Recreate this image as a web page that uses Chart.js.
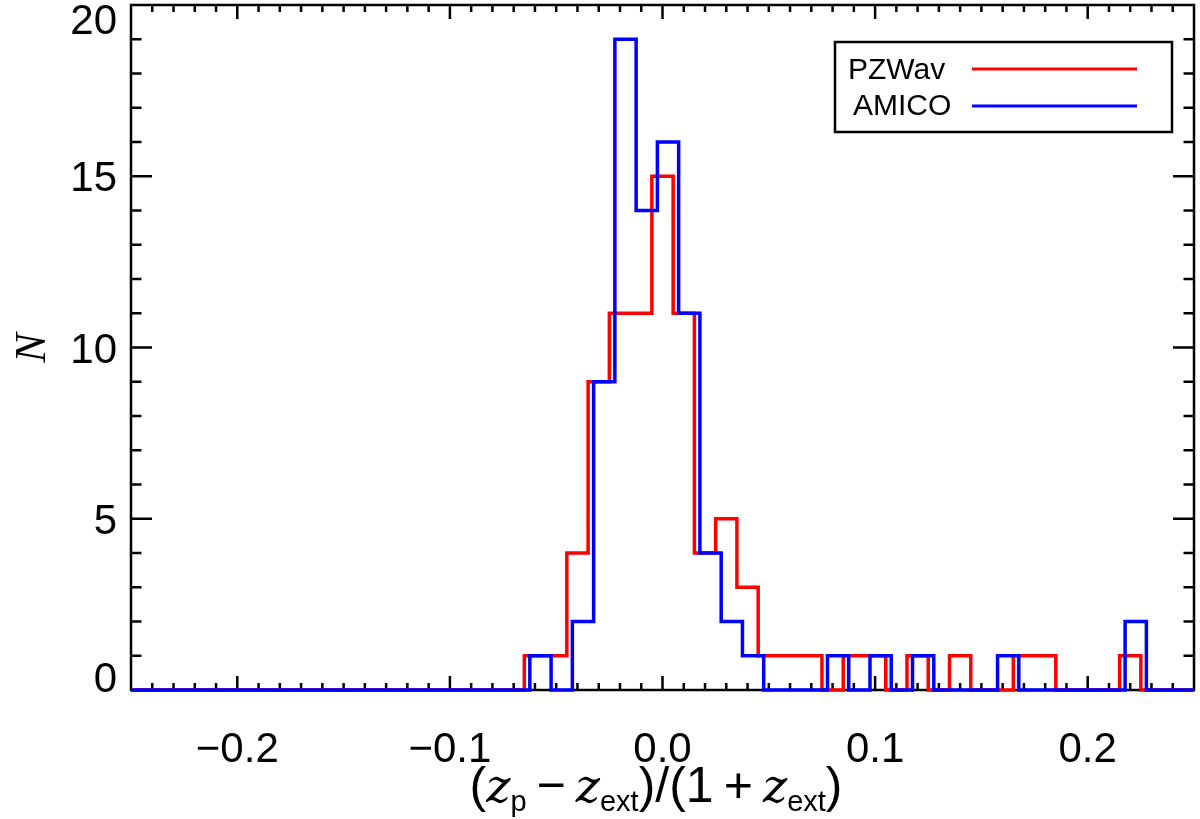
<!DOCTYPE html>
<html>
<head>
<meta charset="utf-8">
<title>Photometric redshift residuals</title>
<script src="https://cdn.jsdelivr.net/npm/chart.js@4.4.1/dist/chart.umd.min.js"></script>
<style>
  html, body { margin: 0; padding: 0; background: #fff; }
  canvas { display: block; }
</style>
</head>
<body>
<canvas id="histChart" width="1200" height="819"></canvas>
<script>
// histogram bins: left edge of each bin + count (bin width 0.01)
const pzwavEdges = [-0.065, -0.055, -0.045, -0.035, -0.025, -0.015, -0.005, 0.005, 0.015, 0.025,
                    0.035, 0.045, 0.055, 0.065, 0.075, 0.085, 0.095, 0.105, 0.115, 0.125,
                    0.135, 0.145, 0.155, 0.165, 0.175, 0.185, 0.195, 0.205, 0.215];
const pzwavCounts = [1, 1, 4, 9, 11, 11, 15, 11, 4, 5,
                     3, 1, 1, 1, 0, 1, 1, 0, 1, 0,
                     1, 0, 0, 1, 1, 0, 0, 0, 1];
const pzwavLastEdge = 0.225;

const amicoEdges = [-0.0624, -0.0524, -0.0424, -0.0324, -0.0224, -0.0124, -0.0024, 0.0076, 0.0176, 0.0276,
                    0.0376, 0.0476, 0.0576, 0.0676, 0.0776, 0.0876, 0.0976, 0.1076, 0.1176, 0.1276,
                    0.1376, 0.1476, 0.1576, 0.1676, 0.1776, 0.1876, 0.1976, 0.2076, 0.2176];
const amicoCounts = [1, 0, 2, 9, 19, 14, 16, 11, 4, 2,
                     1, 0, 0, 0, 1, 0, 1, 0, 1, 0,
                     0, 0, 1, 0, 0, 0, 0, 0, 2];
const amicoLastEdge = 0.2276;

const xTickValues = [-0.2, -0.1, 0.0, 0.1, 0.2];
const xTickLabels = ['\u22120.2', '\u22120.1', '0.0', '0.1', '0.2'];
const yTickValues = [0, 5, 10, 15, 20];
const yTickLabels = ['0', '5', '10', '15', '20'];

const X_MIN = -0.25, X_MAX = 0.25;
const Y_MIN = 0, Y_MAX = 20;

// step outline: start at the left edge of the axis, one point per bin, close at zero
function histPoints(edges, counts, lastEdge) {
    const pts = [{x: X_MIN, y: 0}];
    edges.forEach((e, i) => pts.push({x: e, y: counts[i]}));
    pts.push({x: lastEdge, y: 0});
    pts.push({x: X_MAX, y: 0});
    return pts;
}

const tickFont = '42px "Liberation Sans", Arial, sans-serif';

// IDL-style box: frame, inward ticks on all four sides, labels, titles and legend
const idlFrame = {
    id: 'idlFrame',
    beforeDatasetsDraw(chart) {
        const {ctx, chartArea: a, scales: {x, y}} = chart;
        ctx.save();
        ctx.strokeStyle = '#000';
        ctx.lineWidth = 2.5;
        ctx.strokeRect(a.left, a.top, a.right - a.left, a.bottom - a.top);

        ctx.beginPath();
        for (let i = -24; i <= 24; i++) {
            const px = x.getPixelForValue(i / 100);
            const len = (i % 10 === 0) ? 14 : 7;
            ctx.moveTo(px, a.bottom); ctx.lineTo(px, a.bottom - len);
            ctx.moveTo(px, a.top); ctx.lineTo(px, a.top + len);
        }
        for (let j = 1; j < 20; j++) {
            const py = y.getPixelForValue(j);
            const len = (j % 5 === 0) ? 21 : 10.5;
            ctx.moveTo(a.left, py); ctx.lineTo(a.left + len, py);
            ctx.moveTo(a.right, py); ctx.lineTo(a.right - len, py);
        }
        ctx.stroke();

        ctx.fillStyle = '#000';
        ctx.font = tickFont;
        ctx.textAlign = 'center';
        ctx.textBaseline = 'alphabetic';
        xTickValues.forEach((v, i) => {
            ctx.fillText(xTickLabels[i], x.getPixelForValue(v), a.bottom + 72);
        });
        ctx.textAlign = 'right';
        yTickValues.forEach((v, i) => {
            let base = y.getPixelForValue(v) + 15;
            base = Math.min(Math.max(base, a.top + 29), a.bottom + 2);
            ctx.fillText(yTickLabels[i], 117, base);
        });

        // y title
        ctx.save();
        ctx.translate(45, 348);
        ctx.rotate(-Math.PI / 2);
        ctx.textAlign = 'center';
        ctx.font = 'italic 44px "Liberation Serif", serif';
        ctx.fillText('N', 0, 0);
        ctx.restore();

        // x title: (z_p - z_ext)/(1 + z_ext)
        const big = '50px "Liberation Sans", Arial, sans-serif';
        const zf = 'italic 46px "DejaVu Serif", serif';
        const sub = '29px "Liberation Sans", Arial, sans-serif';
        const parts = [
            ['(', big, 0], ['z', zf, 0], ['p', sub, 9], ['\u2009\u2212\u2009', big, 0],
            ['z', zf, 0], ['ext', sub, 9], [')', big, 0], ['/', big, 0],
            ['(', big, 0], ['1', big, 0], ['\u2009+\u2009', big, 0], ['z', zf, 0],
            ['ext', sub, 9], [')', big, 0]
        ];
        let total = 0;
        parts.forEach(p => { ctx.font = p[1]; total += ctx.measureText(p[0]).width; });
        let cx = 656 - total / 2;
        ctx.textAlign = 'left';
        parts.forEach(p => {
            ctx.font = p[1];
            ctx.fillText(p[0], cx, 802 + p[2]);
            cx += ctx.measureText(p[0]).width;
        });
        ctx.restore();
    },
    afterDatasetsDraw(chart) {
        const {ctx} = chart;
        ctx.save();
        ctx.fillStyle = '#fff';
        ctx.fillRect(835, 42, 337, 90);
        ctx.strokeStyle = '#000';
        ctx.lineWidth = 2.5;
        ctx.strokeRect(835, 42, 337, 90);
        ctx.font = '30px "Liberation Sans", Arial, sans-serif';
        ctx.textAlign = 'left';
        const rows = [{tx: 848, ty: 79, ly: 69}, {tx: 853, ty: 115, ly: 106}];
        chart.data.datasets.forEach((ds, i) => {
            const r = rows[i];
            ctx.fillStyle = '#000';
            ctx.fillText(ds.label, r.tx, r.ty);
            ctx.strokeStyle = ds.borderColor;
            ctx.lineWidth = 3;
            ctx.beginPath();
            ctx.moveTo(972, r.ly);
            ctx.lineTo(1137, r.ly);
            ctx.stroke();
        });
        ctx.restore();
    }
};

const ctx = document.getElementById('histChart').getContext('2d');

const histChart = new Chart(ctx, {
    type: 'line',
    data: {
        datasets: [{
            label: 'PZWav',
            data: histPoints(pzwavEdges, pzwavCounts, pzwavLastEdge),
            borderColor: '#ff0000',
            borderWidth: 3.5,
            stepped: 'before',
            pointRadius: 0,
            fill: false,
            clip: false,
            order: 2
        }, {
            label: 'AMICO',
            data: histPoints(amicoEdges, amicoCounts, amicoLastEdge),
            borderColor: '#0000ff',
            borderWidth: 3.5,
            stepped: 'before',
            pointRadius: 0,
            fill: false,
            clip: false,
            order: 1
        }]
    },
    options: {
        responsive: false,
        animation: false,
        events: [],
        layout: {padding: {left: 131, right: 6, top: 5, bottom: 129}},
        plugins: {legend: {display: false}, tooltip: {enabled: false}},
        scales: {
            x: {type: 'linear', min: X_MIN, max: X_MAX, display: false},
            y: {type: 'linear', min: Y_MIN, max: Y_MAX, display: false}
        }
    },
    plugins: [idlFrame]
});
</script>
</body>
</html>
